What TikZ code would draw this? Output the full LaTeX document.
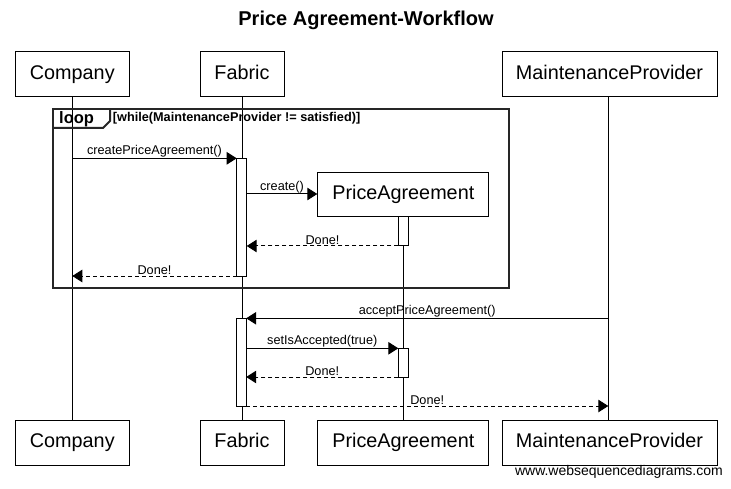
\documentclass[tikz,border=0pt]{standalone}
\usepackage{fontspec}
\setmainfont{Liberation Sans}
\usetikzlibrary{arrows.meta}
\begin{document}
\begin{tikzpicture}[x=1pt,y=-1pt,
  actor/.style={draw=black, line width=1pt, fill=white, minimum height=45pt, inner sep=0pt, text height=14pt, text depth=4pt, font=\fontsize{19.8}{22}\selectfont},
  life/.style={draw=black, line width=1pt},
  act/.style={draw=black, line width=1pt, fill=white},
  msg/.style={draw=black, line width=1pt, -{Triangle[length=10pt,width=12.5pt]}},
  ret/.style={msg, dash pattern=on 4pt off 3pt},
  lbl/.style={font=\fontsize{12.7}{15}\selectfont, inner sep=0.5pt, above},
  frame/.style={draw=black!85, line width=2pt}
]
\useasboundingbox (0,0) rectangle (731,489);
% title
\node (title) at (366,20) {\fontsize{20}{24}\selectfont\bfseries Price Agreement-Workflow};
% top actors
\node[actor, minimum width=114pt] (cT) at (72.3,74.5) {Company};
\node[actor, minimum width=84pt] (fT) at (242,74.5) {Fabric};
\node[actor, minimum width=215pt] (mT) at (609.5,74.5) {MaintenanceProvider};
% bottom actors
\node[actor, minimum width=114pt] (cB) at (72.3,442.5) {Company};
\node[actor, minimum width=84pt] (fB) at (242,442.5) {Fabric};
\node[actor, minimum width=171pt] (pB) at (403.3,442.5) {PriceAgreement};
\node[actor, minimum width=215pt] (mB) at (609.5,442.5) {MaintenanceProvider};
% created PriceAgreement
\node[actor, minimum width=171pt, minimum height=44pt] (pT) at (403.3,194.7) {PriceAgreement};
% lifelines
\draw[life] (cT.south -| 72.3,0) -- (cB.north -| 72.3,0);
\draw[life] (fT.south -| 242,0) -- (fB.north -| 242,0);
\draw[life] (mT.south -| 608.3,0) -- (mB.north -| 608.3,0);
\draw[life] (pT.south -| 403.3,0) -- (pB.north -| 403.3,0);
% loop frame
\draw[frame] (52.5,109.5) rectangle (509,288);
\draw[frame] (52.5,128) -- (103,128) -- (110,121) -- (110,109.5);
\node[anchor=west, inner sep=0pt] (looplbl) at (59,119.5) {\fontsize{16.5}{18}\selectfont\bfseries loop};
\node[anchor=west, inner sep=0pt] (guard) at (112.7,118) {\fontsize{12.7}{14}\selectfont\bfseries [while(MaintenanceProvider != satisfied)]};
% activations
\path[act] (236.7,158.3) rectangle (246.7,276);
\path[act] (398.3,217) rectangle (408.3,246);
\path[act] (236.2,318.3) rectangle (246.2,406);
\path[act] (398.3,348.3) rectangle (408.3,377);
% message endpoints
\coordinate (c1) at (72.3,158.3);
\coordinate (f1) at (236.7,158.3);
\coordinate (f2) at (246.7,194);
\coordinate (p2) at (pT.west |- 0,194);
\coordinate (p3) at (398.3,246);
\coordinate (f3) at (246.7,246);
\coordinate (f4) at (236.7,276);
\coordinate (c4) at (72.3,276);
\coordinate (m5) at (608.3,318.3);
\coordinate (f5) at (246.2,318.3);
\coordinate (f6) at (246.2,348.3);
\coordinate (p6) at (398.3,348.3);
\coordinate (p7) at (398.3,377);
\coordinate (f7) at (246.2,377);
\coordinate (f8) at (246.2,406);
\coordinate (m8) at (608.3,406);
% messages
\draw[msg] (c1) -- node[lbl] {createPriceAgreement()} (f1);
\draw[msg] (f2) -- node[lbl] {create()} (p2);
\draw[ret] (p3) -- node[lbl] {Done!} (f3);
\draw[ret] (f4) -- node[lbl] {Done!} (c4);
\draw[msg] (m5) -- node[lbl] {acceptPriceAgreement()} (f5);
\draw[msg] (f6) -- node[lbl] {setIsAccepted(true)} (p6);
\draw[ret] (p7) -- node[lbl] {Done!} (f7);
\draw[ret] (f8) -- node[lbl] {Done!} (m8);
% watermark
\node[anchor=east, inner sep=0pt] (wm) at (723,472) {\fontsize{14}{16}\selectfont www.websequencediagrams.com};
\end{tikzpicture}
\end{document}
